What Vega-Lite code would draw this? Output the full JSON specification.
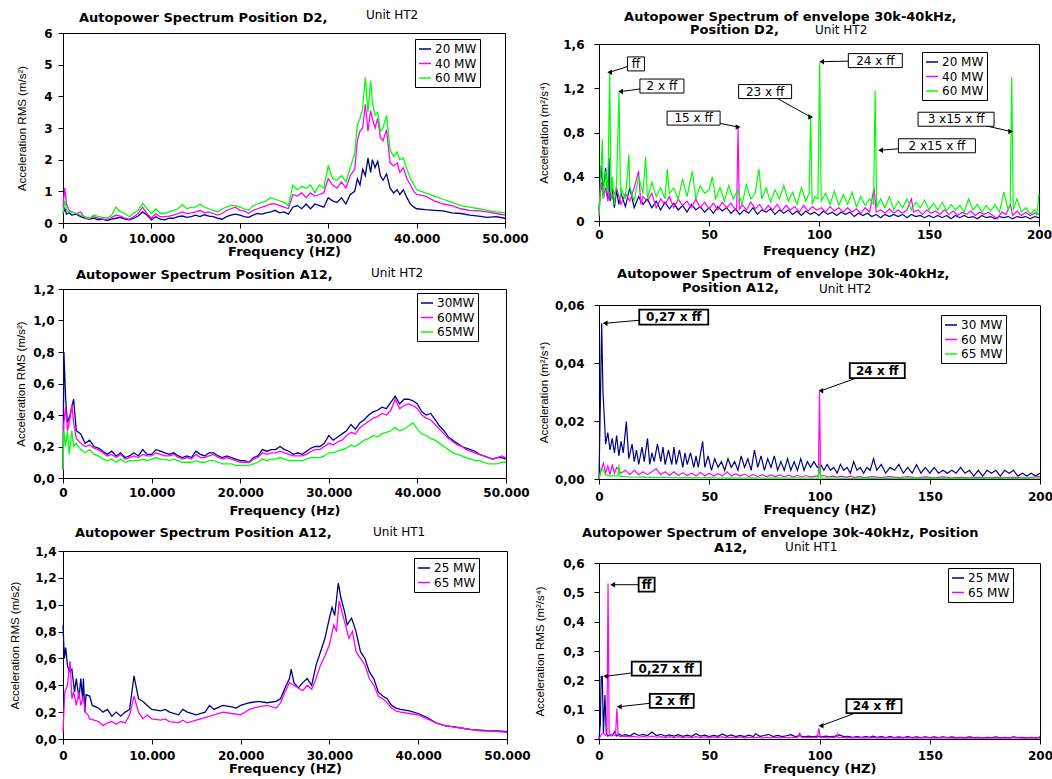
{
"$schema":"https://vega.github.io/schema/vega-lite/v6.json",
"background":"white",
"padding":{"left":8,"top":0,"right":5,"bottom":2},
"config":{
 "font":"DejaVu Sans",
 "view":{"stroke":"black","strokeWidth":1},
 "axis":{"grid":false,"domainColor":"black","tickColor":"black","labelColor":"black","titleColor":"black","tickSize":5,"labelFont":"DejaVu Sans","labelFontWeight":"bold","labelFontSize":12,"labelFlush":false,"labelOverlap":false},
 "axisX":{"titleFont":"DejaVu Sans","titleFontWeight":"bold","titleFontSize":13},
 "axisY":{"titleFont":"Liberation Sans","titleFontWeight":"normal","titleFontSize":11.5},
 "text":{"color":"black"},
 "legend":{"strokeColor":"black","fillColor":"white","padding":3,"symbolType":"stroke","symbolSize":144,"symbolStrokeWidth":1.5,"labelFont":"DejaVu Sans","labelFontSize":12,"labelColor":"black","rowPadding":1.5,"labelOffset":3,"cornerRadius":0}
},
"datasets":{
"t1":[{"t":"Autopower Spectrum Position D2,","x":1810,"y":6.357}],
"u1":[{"t":"Unit HT2","x":34276,"y":6.442}],
"t2":[{"t":"Autopower Spectrum of envelope 30k-40kHz,","x":11.4,"y":1.811},{"t":"Position D2,","x":41.4,"y":1.688}],
"u2":[{"t":"Unit HT2","x":98.2,"y":1.69}],
"t3":[{"t":"Autopower Spectrum Position A12,","x":1467,"y":1.2635}],
"u3":[{"t":"Unit HT2","x":34763,"y":1.274}],
"t4":[{"t":"Autopower Spectrum of envelope 30k-40kHz,","x":8.2,"y":0.0692},{"t":"Position A12,","x":37.6,"y":0.06438}],
"u4":[{"t":"Unit HT2","x":99.8,"y":0.06404}],
"t5":[{"t":"Autopower Spectrum Position A12,","x":1351,"y":1.5065}],
"u5":[{"t":"Unit HT1","x":34910,"y":1.514}],
"t6":[{"t":"Autopower Spectrum of envelope 30k-40kHz, Position","x":-7.7,"y":0.6897},{"t":"A12,","x":52.2,"y":0.6385}],
"u6":[{"t":"Unit HT1","x":84.4,"y":0.641}],
"a1":[{"x":0,"y":0.3},{"x":200,"y":0.45},{"x":400,"y":0.28},{"x":700,"y":0.32},{"x":1000,"y":0.25},{"x":1500,"y":0.28},{"x":2000,"y":0.2},{"x":2500,"y":0.15},{"x":3000,"y":0.12},{"x":3500,"y":0.15},{"x":4000,"y":0.1},{"x":4500,"y":0.12},{"x":5000,"y":0.08},{"x":5500,"y":0.12},{"x":6000,"y":0.15},{"x":6500,"y":0.18},{"x":7000,"y":0.12},{"x":7500,"y":0.1},{"x":8000,"y":0.15},{"x":8500,"y":0.22},{"x":9000,"y":0.35},{"x":9500,"y":0.25},{"x":10000,"y":0.1},{"x":10500,"y":0.2},{"x":11000,"y":0.12},{"x":11500,"y":0.1},{"x":12000,"y":0.15},{"x":12500,"y":0.15},{"x":13000,"y":0.2},{"x":13500,"y":0.22},{"x":14000,"y":0.18},{"x":14500,"y":0.2},{"x":15000,"y":0.25},{"x":15500,"y":0.2},{"x":16000,"y":0.26},{"x":16500,"y":0.22},{"x":17000,"y":0.2},{"x":17500,"y":0.15},{"x":18000,"y":0.12},{"x":18500,"y":0.2},{"x":19000,"y":0.25},{"x":19500,"y":0.28},{"x":20000,"y":0.25},{"x":20500,"y":0.2},{"x":21000,"y":0.18},{"x":21500,"y":0.25},{"x":22000,"y":0.3},{"x":22500,"y":0.28},{"x":23000,"y":0.32},{"x":23500,"y":0.35},{"x":24000,"y":0.4},{"x":24500,"y":0.32},{"x":25000,"y":0.35},{"x":25500,"y":0.28},{"x":26000,"y":0.5},{"x":26500,"y":0.55},{"x":27000,"y":0.45},{"x":27500,"y":0.6},{"x":28000,"y":0.45},{"x":28500,"y":0.6},{"x":29000,"y":0.55},{"x":29500,"y":0.5},{"x":30000,"y":0.8},{"x":30500,"y":0.7},{"x":31000,"y":0.65},{"x":31500,"y":0.8},{"x":32000,"y":0.6},{"x":32500,"y":0.9},{"x":33000,"y":1.0},{"x":33300,"y":1.4},{"x":33600,"y":1.2},{"x":33900,"y":1.7},{"x":34200,"y":1.5},{"x":34500,"y":2.05},{"x":34800,"y":1.6},{"x":35000,"y":2.0},{"x":35300,"y":1.75},{"x":35600,"y":1.95},{"x":35900,"y":1.5},{"x":36200,"y":1.35},{"x":36600,"y":1.55},{"x":37000,"y":1.1},{"x":37400,"y":0.95},{"x":37800,"y":1.05},{"x":38100,"y":0.9},{"x":38500,"y":1.05},{"x":38900,"y":0.8},{"x":39300,"y":0.6},{"x":39700,"y":0.5},{"x":40000,"y":0.45},{"x":41000,"y":0.42},{"x":42000,"y":0.4},{"x":43000,"y":0.38},{"x":44000,"y":0.32},{"x":45000,"y":0.3},{"x":46000,"y":0.25},{"x":47000,"y":0.22},{"x":48000,"y":0.18},{"x":49000,"y":0.2},{"x":50000,"y":0.15}],
"a2":[{"x":0,"y":0.5},{"x":200,"y":1.1},{"x":400,"y":0.6},{"x":700,"y":0.4},{"x":1000,"y":0.35},{"x":1500,"y":0.3},{"x":2000,"y":0.35},{"x":2500,"y":0.15},{"x":3000,"y":0.15},{"x":3500,"y":0.2},{"x":4000,"y":0.15},{"x":4500,"y":0.12},{"x":5000,"y":0.1},{"x":5500,"y":0.18},{"x":6000,"y":0.25},{"x":6500,"y":0.22},{"x":7000,"y":0.15},{"x":7500,"y":0.12},{"x":8000,"y":0.2},{"x":8500,"y":0.3},{"x":9000,"y":0.5},{"x":9500,"y":0.3},{"x":10000,"y":0.15},{"x":10500,"y":0.3},{"x":11000,"y":0.2},{"x":11500,"y":0.2},{"x":12000,"y":0.22},{"x":12500,"y":0.25},{"x":13000,"y":0.3},{"x":13500,"y":0.35},{"x":14000,"y":0.3},{"x":14500,"y":0.32},{"x":15000,"y":0.35},{"x":15500,"y":0.4},{"x":16000,"y":0.32},{"x":16500,"y":0.35},{"x":17000,"y":0.3},{"x":17500,"y":0.25},{"x":18000,"y":0.3},{"x":18500,"y":0.4},{"x":19000,"y":0.45},{"x":19500,"y":0.5},{"x":20000,"y":0.4},{"x":20500,"y":0.38},{"x":21000,"y":0.3},{"x":21500,"y":0.4},{"x":22000,"y":0.45},{"x":22500,"y":0.5},{"x":23000,"y":0.55},{"x":23500,"y":0.6},{"x":24000,"y":0.6},{"x":24500,"y":0.55},{"x":25000,"y":0.5},{"x":25500,"y":0.45},{"x":26000,"y":0.9},{"x":26500,"y":0.85},{"x":27000,"y":0.95},{"x":27500,"y":0.8},{"x":28000,"y":0.95},{"x":28500,"y":0.85},{"x":29000,"y":0.9},{"x":29500,"y":0.95},{"x":30000,"y":1.4},{"x":30500,"y":1.2},{"x":31000,"y":1.1},{"x":31500,"y":1.3},{"x":32000,"y":1.1},{"x":32500,"y":1.5},{"x":33000,"y":1.7},{"x":33300,"y":2.6},{"x":33600,"y":2.9},{"x":33900,"y":3.0},{"x":34200,"y":3.75},{"x":34500,"y":2.9},{"x":34800,"y":3.55},{"x":35000,"y":3.3},{"x":35300,"y":3.0},{"x":35600,"y":3.3},{"x":35900,"y":2.7},{"x":36200,"y":2.6},{"x":36600,"y":2.95},{"x":37000,"y":1.9},{"x":37400,"y":1.8},{"x":37800,"y":1.9},{"x":38100,"y":1.6},{"x":38500,"y":1.75},{"x":38900,"y":1.4},{"x":39300,"y":1.2},{"x":39700,"y":1.0},{"x":40000,"y":0.9},{"x":41000,"y":0.85},{"x":42000,"y":0.7},{"x":43000,"y":0.6},{"x":44000,"y":0.55},{"x":45000,"y":0.45},{"x":46000,"y":0.4},{"x":47000,"y":0.38},{"x":48000,"y":0.35},{"x":49000,"y":0.3},{"x":50000,"y":0.25}],
"a3":[{"x":0,"y":0.3},{"x":200,"y":0.7},{"x":400,"y":0.4},{"x":700,"y":0.35},{"x":1000,"y":0.35},{"x":1500,"y":0.3},{"x":2000,"y":0.25},{"x":2500,"y":0.2},{"x":3000,"y":0.15},{"x":3500,"y":0.25},{"x":4000,"y":0.2},{"x":4500,"y":0.18},{"x":5000,"y":0.15},{"x":5500,"y":0.25},{"x":6000,"y":0.5},{"x":6500,"y":0.35},{"x":7000,"y":0.3},{"x":7500,"y":0.2},{"x":8000,"y":0.3},{"x":8500,"y":0.4},{"x":9000,"y":0.62},{"x":9500,"y":0.45},{"x":10000,"y":0.3},{"x":10500,"y":0.45},{"x":11000,"y":0.3},{"x":11500,"y":0.3},{"x":12000,"y":0.35},{"x":12500,"y":0.4},{"x":13000,"y":0.45},{"x":13500,"y":0.58},{"x":14000,"y":0.45},{"x":14500,"y":0.5},{"x":15000,"y":0.5},{"x":15500,"y":0.6},{"x":16000,"y":0.5},{"x":16500,"y":0.45},{"x":17000,"y":0.4},{"x":17500,"y":0.35},{"x":18000,"y":0.45},{"x":18500,"y":0.5},{"x":19000,"y":0.55},{"x":19500,"y":0.55},{"x":20000,"y":0.5},{"x":20500,"y":0.45},{"x":21000,"y":0.4},{"x":21500,"y":0.55},{"x":22000,"y":0.6},{"x":22500,"y":0.65},{"x":23000,"y":0.7},{"x":23500,"y":0.8},{"x":24000,"y":0.75},{"x":24500,"y":0.7},{"x":25000,"y":0.65},{"x":25500,"y":0.55},{"x":26000,"y":1.2},{"x":26500,"y":1.05},{"x":27000,"y":1.15},{"x":27500,"y":1.1},{"x":28000,"y":1.2},{"x":28500,"y":0.95},{"x":29000,"y":1.2},{"x":29500,"y":1.1},{"x":30000,"y":1.8},{"x":30500,"y":1.4},{"x":31000,"y":1.35},{"x":31500,"y":1.5},{"x":32000,"y":1.3},{"x":32500,"y":1.75},{"x":33000,"y":2.2},{"x":33300,"y":3.1},{"x":33600,"y":3.3},{"x":33900,"y":3.6},{"x":34200,"y":4.6},{"x":34500,"y":3.5},{"x":34800,"y":4.5},{"x":35000,"y":3.8},{"x":35300,"y":3.4},{"x":35600,"y":3.5},{"x":35900,"y":2.9},{"x":36200,"y":3.0},{"x":36600,"y":3.4},{"x":37000,"y":2.3},{"x":37400,"y":2.1},{"x":37800,"y":2.25},{"x":38100,"y":2.0},{"x":38500,"y":2.05},{"x":38900,"y":1.7},{"x":39300,"y":1.4},{"x":39700,"y":1.2},{"x":40000,"y":1.05},{"x":41000,"y":0.95},{"x":42000,"y":0.85},{"x":43000,"y":0.75},{"x":44000,"y":0.65},{"x":45000,"y":0.55},{"x":46000,"y":0.5},{"x":47000,"y":0.45},{"x":48000,"y":0.4},{"x":49000,"y":0.35},{"x":50000,"y":0.32}],
"b1":[{"x":0,"y":0.1},{"x":1,"y":0.5},{"x":2,"y":0.25},{"x":3,"y":0.48},{"x":4,"y":0.2},{"x":4.5,"y":0.57},{"x":5,"y":0.18},{"x":6,"y":0.3},{"x":7,"y":0.12},{"x":8,"y":0.28},{"x":9,"y":0.15},{"x":10,"y":0.25},{"x":12,"y":0.13},{"x":14,"y":0.3},{"x":16,"y":0.12},{"x":18,"y":0.22},{"x":20,"y":0.15},{"x":22,"y":0.2},{"x":24,"y":0.12},{"x":26,"y":0.18},{"x":28,"y":0.1},{"x":30,"y":0.17},{"x":32,"y":0.11},{"x":34,"y":0.16},{"x":36,"y":0.1},{"x":38,"y":0.14},{"x":40,"y":0.08},{"x":42,"y":0.15},{"x":44,"y":0.1},{"x":46,"y":0.13},{"x":48,"y":0.08},{"x":50,"y":0.12},{"x":52,"y":0.07},{"x":54,"y":0.13},{"x":56,"y":0.09},{"x":58,"y":0.12},{"x":60,"y":0.07},{"x":62,"y":0.11},{"x":64,"y":0.06},{"x":66,"y":0.1},{"x":68,"y":0.07},{"x":70,"y":0.12},{"x":72,"y":0.06},{"x":74,"y":0.1},{"x":76,"y":0.08},{"x":78,"y":0.11},{"x":80,"y":0.06},{"x":82,"y":0.1},{"x":84,"y":0.07},{"x":86,"y":0.1},{"x":88,"y":0.06},{"x":90,"y":0.09},{"x":92,"y":0.05},{"x":94,"y":0.09},{"x":96,"y":0.06},{"x":98,"y":0.08},{"x":100,"y":0.05},{"x":102,"y":0.09},{"x":104,"y":0.06},{"x":106,"y":0.08},{"x":108,"y":0.05},{"x":110,"y":0.08},{"x":112,"y":0.06},{"x":114,"y":0.08},{"x":116,"y":0.04},{"x":118,"y":0.07},{"x":120,"y":0.05},{"x":122,"y":0.07},{"x":124,"y":0.04},{"x":126,"y":0.06},{"x":128,"y":0.03},{"x":130,"y":0.06},{"x":132,"y":0.04},{"x":134,"y":0.06},{"x":136,"y":0.04},{"x":138,"y":0.06},{"x":140,"y":0.03},{"x":142,"y":0.06},{"x":144,"y":0.04},{"x":146,"y":0.05},{"x":148,"y":0.03},{"x":150,"y":0.05},{"x":152,"y":0.03},{"x":154,"y":0.05},{"x":156,"y":0.03},{"x":158,"y":0.05},{"x":160,"y":0.02},{"x":162,"y":0.05},{"x":164,"y":0.03},{"x":166,"y":0.05},{"x":168,"y":0.03},{"x":170,"y":0.04},{"x":172,"y":0.02},{"x":174,"y":0.05},{"x":176,"y":0.03},{"x":178,"y":0.04},{"x":180,"y":0.02},{"x":182,"y":0.04},{"x":184,"y":0.03},{"x":186,"y":0.04},{"x":188,"y":0.02},{"x":190,"y":0.04},{"x":192,"y":0.03},{"x":194,"y":0.04},{"x":196,"y":0.02},{"x":198,"y":0.04},{"x":200,"y":0.03}],
"b2":[{"x":0,"y":0.05},{"x":1,"y":0.35},{"x":2,"y":0.2},{"x":3,"y":0.3},{"x":4,"y":0.18},{"x":5,"y":0.27},{"x":6,"y":0.2},{"x":8,"y":0.3},{"x":10,"y":0.15},{"x":12,"y":0.25},{"x":14,"y":0.18},{"x":16,"y":0.3},{"x":18,"y":0.45},{"x":19,"y":0.15},{"x":20,"y":0.22},{"x":22,"y":0.18},{"x":24,"y":0.25},{"x":26,"y":0.12},{"x":28,"y":0.2},{"x":30,"y":0.15},{"x":32,"y":0.22},{"x":34,"y":0.12},{"x":36,"y":0.2},{"x":38,"y":0.14},{"x":40,"y":0.18},{"x":42,"y":0.12},{"x":44,"y":0.2},{"x":46,"y":0.12},{"x":48,"y":0.17},{"x":50,"y":0.11},{"x":52,"y":0.16},{"x":54,"y":0.1},{"x":56,"y":0.17},{"x":58,"y":0.12},{"x":60,"y":0.16},{"x":62,"y":0.1},{"x":62.6,"y":0.12},{"x":63.2,"y":0.85},{"x":63.8,"y":0.1},{"x":65,"y":0.15},{"x":67,"y":0.1},{"x":69,"y":0.17},{"x":71,"y":0.11},{"x":73,"y":0.15},{"x":75,"y":0.09},{"x":77,"y":0.14},{"x":79,"y":0.1},{"x":81,"y":0.15},{"x":83,"y":0.09},{"x":85,"y":0.14},{"x":87,"y":0.1},{"x":89,"y":0.13},{"x":91,"y":0.08},{"x":93,"y":0.14},{"x":95,"y":0.09},{"x":97,"y":0.13},{"x":99,"y":0.1},{"x":101,"y":0.12},{"x":103,"y":0.08},{"x":105,"y":0.13},{"x":107,"y":0.09},{"x":109,"y":0.12},{"x":111,"y":0.08},{"x":113,"y":0.12},{"x":115,"y":0.08},{"x":117,"y":0.11},{"x":119,"y":0.07},{"x":121,"y":0.12},{"x":123,"y":0.08},{"x":125,"y":0.3},{"x":126,"y":0.08},{"x":128,"y":0.1},{"x":130,"y":0.07},{"x":132,"y":0.11},{"x":134,"y":0.07},{"x":136,"y":0.1},{"x":138,"y":0.07},{"x":140,"y":0.1},{"x":142,"y":0.2},{"x":143,"y":0.08},{"x":145,"y":0.1},{"x":147,"y":0.06},{"x":149,"y":0.1},{"x":151,"y":0.07},{"x":153,"y":0.09},{"x":155,"y":0.06},{"x":157,"y":0.1},{"x":159,"y":0.06},{"x":161,"y":0.09},{"x":163,"y":0.05},{"x":165,"y":0.08},{"x":167,"y":0.06},{"x":169,"y":0.09},{"x":171,"y":0.05},{"x":173,"y":0.08},{"x":175,"y":0.06},{"x":177,"y":0.08},{"x":179,"y":0.05},{"x":181,"y":0.02},{"x":183,"y":0.08},{"x":185,"y":0.06},{"x":187,"y":0.15},{"x":188,"y":0.05},{"x":190,"y":0.09},{"x":192,"y":0.05},{"x":194,"y":0.08},{"x":196,"y":0.05},{"x":198,"y":0.07},{"x":200,"y":0.06}],
"b3":[{"x":0,"y":0.05},{"x":1,"y":0.5},{"x":1.5,"y":0.74},{"x":2,"y":0.2},{"x":3,"y":0.45},{"x":4,"y":0.25},{"x":4.85,"y":1.34},{"x":5.5,"y":0.2},{"x":6,"y":0.4},{"x":7,"y":0.15},{"x":8,"y":0.35},{"x":9.1,"y":1.16},{"x":9.8,"y":0.2},{"x":10,"y":0.3},{"x":12,"y":0.2},{"x":13.6,"y":0.6},{"x":14,"y":0.3},{"x":16,"y":0.18},{"x":18,"y":0.4},{"x":20,"y":0.25},{"x":21.2,"y":0.58},{"x":22,"y":0.2},{"x":24,"y":0.35},{"x":26,"y":0.22},{"x":28,"y":0.3},{"x":30,"y":0.2},{"x":31,"y":0.47},{"x":32,"y":0.25},{"x":34,"y":0.3},{"x":36,"y":0.2},{"x":38,"y":0.38},{"x":40,"y":0.22},{"x":42.4,"y":0.45},{"x":44,"y":0.2},{"x":46,"y":0.32},{"x":48,"y":0.25},{"x":50,"y":0.28},{"x":51.5,"y":0.4},{"x":53,"y":0.2},{"x":55,"y":0.3},{"x":57,"y":0.18},{"x":59,"y":0.32},{"x":61,"y":0.2},{"x":63,"y":0.28},{"x":65,"y":0.15},{"x":67,"y":0.33},{"x":69,"y":0.2},{"x":71,"y":0.25},{"x":72.7,"y":0.47},{"x":74,"y":0.2},{"x":76,"y":0.3},{"x":78,"y":0.17},{"x":80,"y":0.28},{"x":82,"y":0.2},{"x":84,"y":0.32},{"x":86,"y":0.18},{"x":88,"y":0.26},{"x":90,"y":0.15},{"x":92,"y":0.3},{"x":94,"y":0.18},{"x":95.5,"y":0.25},{"x":96.2,"y":0.94},{"x":96.9,"y":0.15},{"x":98,"y":0.22},{"x":99.5,"y":0.2},{"x":100.3,"y":1.43},{"x":101,"y":0.18},{"x":103,"y":0.25},{"x":105,"y":0.15},{"x":107,"y":0.27},{"x":109,"y":0.14},{"x":111,"y":0.24},{"x":113,"y":0.15},{"x":115,"y":0.26},{"x":117,"y":0.13},{"x":119,"y":0.22},{"x":121,"y":0.14},{"x":123,"y":0.2},{"x":124.8,"y":0.15},{"x":125.5,"y":1.18},{"x":126.2,"y":0.12},{"x":128,"y":0.2},{"x":130,"y":0.12},{"x":132,"y":0.22},{"x":134,"y":0.1},{"x":136,"y":0.18},{"x":138,"y":0.12},{"x":140,"y":0.2},{"x":142,"y":0.1},{"x":144,"y":0.17},{"x":146,"y":0.12},{"x":148,"y":0.19},{"x":150,"y":0.1},{"x":152,"y":0.16},{"x":154,"y":0.1},{"x":156,"y":0.17},{"x":158,"y":0.09},{"x":160,"y":0.15},{"x":162,"y":0.1},{"x":164,"y":0.14},{"x":166,"y":0.08},{"x":168,"y":0.2},{"x":170,"y":0.1},{"x":172,"y":0.15},{"x":174,"y":0.08},{"x":176,"y":0.14},{"x":178,"y":0.09},{"x":180,"y":0.15},{"x":182,"y":0.08},{"x":184,"y":0.26},{"x":186,"y":0.1},{"x":186.9,"y":0.15},{"x":187.6,"y":1.3},{"x":188.3,"y":0.1},{"x":190,"y":0.2},{"x":192,"y":0.08},{"x":194,"y":0.12},{"x":196,"y":0.06},{"x":198,"y":0.1},{"x":199,"y":0.05},{"x":200,"y":0.25}],
"bn":[{"t":"ff","x":4.85,"y":1.345,"lx":16.8,"ly":1.42},{"t":"2 x ff","x":9.8,"y":1.17,"lx":28.6,"ly":1.22},{"t":"15 x ff","x":63.2,"y":0.85,"lx":43,"ly":0.93},{"t":"23 x ff","x":96.2,"y":0.94,"lx":75.5,"ly":1.17},{"t":"24 x ff","x":101.2,"y":1.44,"lx":125.6,"ly":1.45},{"t":"2 x15 x ff","x":128,"y":0.64,"lx":153.6,"ly":0.68},{"t":"3 x15 x ff","x":187.1,"y":0.81,"lx":162.3,"ly":0.92}],
"c1":[{"x":0,"y":0.05},{"x":100,"y":0.8},{"x":300,"y":0.5},{"x":500,"y":0.35},{"x":800,"y":0.4},{"x":1000,"y":0.45},{"x":1200,"y":0.5},{"x":1500,"y":0.3},{"x":2000,"y":0.28},{"x":2500,"y":0.22},{"x":3000,"y":0.24},{"x":3500,"y":0.2},{"x":4000,"y":0.19},{"x":4500,"y":0.17},{"x":5000,"y":0.15},{"x":5500,"y":0.17},{"x":6000,"y":0.14},{"x":6500,"y":0.16},{"x":7000,"y":0.13},{"x":7500,"y":0.14},{"x":8000,"y":0.16},{"x":8500,"y":0.14},{"x":9000,"y":0.18},{"x":9500,"y":0.15},{"x":10000,"y":0.15},{"x":10500,"y":0.18},{"x":11000,"y":0.17},{"x":11500,"y":0.16},{"x":12000,"y":0.15},{"x":12500,"y":0.16},{"x":13000,"y":0.14},{"x":13500,"y":0.13},{"x":14000,"y":0.14},{"x":14500,"y":0.13},{"x":15000,"y":0.17},{"x":15500,"y":0.15},{"x":16000,"y":0.14},{"x":16500,"y":0.16},{"x":17000,"y":0.16},{"x":17500,"y":0.14},{"x":18000,"y":0.13},{"x":18500,"y":0.14},{"x":19000,"y":0.13},{"x":19500,"y":0.12},{"x":20000,"y":0.11},{"x":20500,"y":0.11},{"x":21000,"y":0.1},{"x":21500,"y":0.13},{"x":22000,"y":0.14},{"x":22500,"y":0.18},{"x":23000,"y":0.17},{"x":23500,"y":0.18},{"x":24000,"y":0.18},{"x":24500,"y":0.2},{"x":25000,"y":0.18},{"x":25500,"y":0.17},{"x":26000,"y":0.15},{"x":26500,"y":0.16},{"x":27000,"y":0.15},{"x":27500,"y":0.17},{"x":28000,"y":0.19},{"x":28500,"y":0.2},{"x":29000,"y":0.2},{"x":29500,"y":0.22},{"x":30000,"y":0.27},{"x":30500,"y":0.24},{"x":31000,"y":0.26},{"x":31500,"y":0.28},{"x":32000,"y":0.3},{"x":32500,"y":0.34},{"x":33000,"y":0.31},{"x":33500,"y":0.35},{"x":34000,"y":0.37},{"x":34500,"y":0.4},{"x":35000,"y":0.42},{"x":35500,"y":0.43},{"x":36000,"y":0.45},{"x":36500,"y":0.44},{"x":37000,"y":0.48},{"x":37500,"y":0.52},{"x":38000,"y":0.47},{"x":38500,"y":0.5},{"x":39000,"y":0.5},{"x":39500,"y":0.49},{"x":40000,"y":0.47},{"x":40500,"y":0.42},{"x":41000,"y":0.4},{"x":41500,"y":0.41},{"x":42000,"y":0.37},{"x":42500,"y":0.33},{"x":43000,"y":0.3},{"x":43500,"y":0.26},{"x":44000,"y":0.24},{"x":44500,"y":0.22},{"x":45000,"y":0.2},{"x":45500,"y":0.19},{"x":46000,"y":0.18},{"x":46500,"y":0.17},{"x":47000,"y":0.15},{"x":47500,"y":0.14},{"x":48000,"y":0.13},{"x":48500,"y":0.12},{"x":49000,"y":0.13},{"x":49500,"y":0.13},{"x":50000,"y":0.12}],
"c2":[{"x":0,"y":0.05},{"x":100,"y":0.35},{"x":300,"y":0.45},{"x":500,"y":0.3},{"x":800,"y":0.38},{"x":1000,"y":0.47},{"x":1200,"y":0.35},{"x":1500,"y":0.25},{"x":2000,"y":0.22},{"x":2500,"y":0.2},{"x":3000,"y":0.21},{"x":3500,"y":0.19},{"x":4000,"y":0.18},{"x":4500,"y":0.16},{"x":5000,"y":0.14},{"x":5500,"y":0.15},{"x":6000,"y":0.13},{"x":6500,"y":0.15},{"x":7000,"y":0.12},{"x":7500,"y":0.13},{"x":8000,"y":0.14},{"x":8500,"y":0.13},{"x":9000,"y":0.15},{"x":9500,"y":0.14},{"x":10000,"y":0.14},{"x":10500,"y":0.16},{"x":11000,"y":0.15},{"x":11500,"y":0.14},{"x":12000,"y":0.14},{"x":12500,"y":0.15},{"x":13000,"y":0.13},{"x":13500,"y":0.12},{"x":14000,"y":0.13},{"x":14500,"y":0.12},{"x":15000,"y":0.15},{"x":15500,"y":0.13},{"x":16000,"y":0.13},{"x":16500,"y":0.14},{"x":17000,"y":0.15},{"x":17500,"y":0.13},{"x":18000,"y":0.12},{"x":18500,"y":0.13},{"x":19000,"y":0.12},{"x":19500,"y":0.11},{"x":20000,"y":0.1},{"x":20500,"y":0.1},{"x":21000,"y":0.1},{"x":21500,"y":0.12},{"x":22000,"y":0.13},{"x":22500,"y":0.16},{"x":23000,"y":0.15},{"x":23500,"y":0.16},{"x":24000,"y":0.16},{"x":24500,"y":0.17},{"x":25000,"y":0.16},{"x":25500,"y":0.15},{"x":26000,"y":0.14},{"x":26500,"y":0.14},{"x":27000,"y":0.14},{"x":27500,"y":0.15},{"x":28000,"y":0.17},{"x":28500,"y":0.18},{"x":29000,"y":0.18},{"x":29500,"y":0.2},{"x":30000,"y":0.22},{"x":30500,"y":0.21},{"x":31000,"y":0.23},{"x":31500,"y":0.24},{"x":32000,"y":0.27},{"x":32500,"y":0.29},{"x":33000,"y":0.28},{"x":33500,"y":0.32},{"x":34000,"y":0.34},{"x":34500,"y":0.36},{"x":35000,"y":0.38},{"x":35500,"y":0.39},{"x":36000,"y":0.41},{"x":36500,"y":0.4},{"x":37000,"y":0.43},{"x":37500,"y":0.5},{"x":38000,"y":0.44},{"x":38500,"y":0.46},{"x":39000,"y":0.47},{"x":39500,"y":0.46},{"x":40000,"y":0.44},{"x":40500,"y":0.4},{"x":41000,"y":0.38},{"x":41500,"y":0.37},{"x":42000,"y":0.34},{"x":42500,"y":0.31},{"x":43000,"y":0.28},{"x":43500,"y":0.25},{"x":44000,"y":0.23},{"x":44500,"y":0.21},{"x":45000,"y":0.2},{"x":45500,"y":0.18},{"x":46000,"y":0.17},{"x":46500,"y":0.16},{"x":47000,"y":0.15},{"x":47500,"y":0.14},{"x":48000,"y":0.13},{"x":48500,"y":0.12},{"x":49000,"y":0.13},{"x":49500,"y":0.14},{"x":50000,"y":0.13}],
"c3":[{"x":0,"y":0.05},{"x":100,"y":0.3},{"x":300,"y":0.2},{"x":500,"y":0.3},{"x":700,"y":0.15},{"x":1000,"y":0.3},{"x":1200,"y":0.2},{"x":1500,"y":0.22},{"x":2000,"y":0.18},{"x":2500,"y":0.16},{"x":3000,"y":0.18},{"x":3500,"y":0.15},{"x":4000,"y":0.14},{"x":4500,"y":0.12},{"x":5000,"y":0.11},{"x":5500,"y":0.12},{"x":6000,"y":0.1},{"x":6500,"y":0.12},{"x":7000,"y":0.1},{"x":7500,"y":0.11},{"x":8000,"y":0.11},{"x":8500,"y":0.11},{"x":9000,"y":0.12},{"x":9500,"y":0.11},{"x":10000,"y":0.12},{"x":10500,"y":0.13},{"x":11000,"y":0.12},{"x":11500,"y":0.12},{"x":12000,"y":0.11},{"x":12500,"y":0.12},{"x":13000,"y":0.11},{"x":13500,"y":0.1},{"x":14000,"y":0.1},{"x":14500,"y":0.1},{"x":15000,"y":0.11},{"x":15500,"y":0.1},{"x":16000,"y":0.1},{"x":16500,"y":0.11},{"x":17000,"y":0.11},{"x":17500,"y":0.1},{"x":18000,"y":0.09},{"x":18500,"y":0.09},{"x":19000,"y":0.09},{"x":19500,"y":0.08},{"x":20000,"y":0.08},{"x":20500,"y":0.08},{"x":21000,"y":0.08},{"x":21500,"y":0.09},{"x":22000,"y":0.1},{"x":22500,"y":0.12},{"x":23000,"y":0.11},{"x":23500,"y":0.12},{"x":24000,"y":0.12},{"x":24500,"y":0.13},{"x":25000,"y":0.12},{"x":25500,"y":0.11},{"x":26000,"y":0.11},{"x":26500,"y":0.11},{"x":27000,"y":0.11},{"x":27500,"y":0.12},{"x":28000,"y":0.13},{"x":28500,"y":0.13},{"x":29000,"y":0.13},{"x":29500,"y":0.14},{"x":30000,"y":0.16},{"x":30500,"y":0.16},{"x":31000,"y":0.17},{"x":31500,"y":0.18},{"x":32000,"y":0.19},{"x":32500,"y":0.21},{"x":33000,"y":0.2},{"x":33500,"y":0.22},{"x":34000,"y":0.24},{"x":34500,"y":0.25},{"x":35000,"y":0.27},{"x":35500,"y":0.26},{"x":36000,"y":0.28},{"x":36500,"y":0.29},{"x":37000,"y":0.3},{"x":37500,"y":0.32},{"x":38000,"y":0.3},{"x":38500,"y":0.31},{"x":39000,"y":0.33},{"x":39500,"y":0.35},{"x":40000,"y":0.31},{"x":40500,"y":0.28},{"x":41000,"y":0.27},{"x":41500,"y":0.25},{"x":42000,"y":0.24},{"x":42500,"y":0.22},{"x":43000,"y":0.2},{"x":43500,"y":0.18},{"x":44000,"y":0.16},{"x":44500,"y":0.15},{"x":45000,"y":0.14},{"x":45500,"y":0.13},{"x":46000,"y":0.12},{"x":46500,"y":0.11},{"x":47000,"y":0.11},{"x":47500,"y":0.1},{"x":48000,"y":0.09},{"x":48500,"y":0.09},{"x":49000,"y":0.09},{"x":49500,"y":0.1},{"x":50000,"y":0.1}],
"d1":[{"x":0,"y":0},{"x":0.7,"y":0.03},{"x":1.2,"y":0.0537},{"x":1.8,"y":0.03},{"x":2.5,"y":0.02},{"x":3,"y":0.012},{"x":4,"y":0.016},{"x":5,"y":0.01},{"x":6,"y":0.014},{"x":7,"y":0.009},{"x":8,"y":0.015},{"x":9,"y":0.008},{"x":10,"y":0.013},{"x":11,"y":0.009},{"x":12.4,"y":0.0198},{"x":13.5,"y":0.007},{"x":15,"y":0.012},{"x":16,"y":0.006},{"x":17,"y":0.01},{"x":18,"y":0.005},{"x":19.5,"y":0.011},{"x":20.5,"y":0.006},{"x":22,"y":0.014},{"x":23,"y":0.005},{"x":24,"y":0.009},{"x":25,"y":0.006},{"x":26.5,"y":0.012},{"x":28,"y":0.006},{"x":29,"y":0.011},{"x":30,"y":0.005},{"x":31.5,"y":0.01},{"x":33,"y":0.005},{"x":34,"y":0.011},{"x":35,"y":0.005},{"x":36.5,"y":0.01},{"x":38,"y":0.004},{"x":39,"y":0.009},{"x":40,"y":0.005},{"x":41.5,"y":0.009},{"x":43,"y":0.004},{"x":44,"y":0.008},{"x":45,"y":0.004},{"x":47,"y":0.013},{"x":48,"y":0.004},{"x":49.5,"y":0.008},{"x":51,"y":0.003},{"x":52.5,"y":0.007},{"x":54,"y":0.004},{"x":55.5,"y":0.006},{"x":57,"y":0.003},{"x":58.5,"y":0.007},{"x":60,"y":0.004},{"x":61.5,"y":0.006},{"x":63,"y":0.003},{"x":64.5,"y":0.008},{"x":66,"y":0.004},{"x":67.5,"y":0.007},{"x":69,"y":0.003},{"x":70.5,"y":0.01},{"x":72,"y":0.004},{"x":73.5,"y":0.008},{"x":75,"y":0.003},{"x":76.5,"y":0.007},{"x":78,"y":0.004},{"x":79.5,"y":0.008},{"x":81,"y":0.003},{"x":82.5,"y":0.006},{"x":84,"y":0.003},{"x":85.5,"y":0.007},{"x":87,"y":0.003},{"x":88.5,"y":0.006},{"x":90,"y":0.003},{"x":91.5,"y":0.007},{"x":93,"y":0.003},{"x":94.5,"y":0.006},{"x":96,"y":0.004},{"x":97.5,"y":0.006},{"x":99,"y":0.004},{"x":100.5,"y":0.005},{"x":102,"y":0.003},{"x":103.5,"y":0.005},{"x":105,"y":0.003},{"x":106.5,"y":0.004},{"x":108,"y":0.002},{"x":109.5,"y":0.005},{"x":111,"y":0.003},{"x":112.5,"y":0.004},{"x":114,"y":0.002},{"x":115.5,"y":0.006},{"x":117,"y":0.003},{"x":118.5,"y":0.004},{"x":120,"y":0.002},{"x":121.5,"y":0.004},{"x":123,"y":0.003},{"x":124.5,"y":0.007},{"x":126,"y":0.003},{"x":128,"y":0.005},{"x":130,"y":0.002},{"x":132,"y":0.004},{"x":134,"y":0.003},{"x":136,"y":0.005},{"x":138,"y":0.002},{"x":140,"y":0.004},{"x":142,"y":0.002},{"x":144,"y":0.005},{"x":146,"y":0.002},{"x":148,"y":0.004},{"x":150,"y":0.002},{"x":152,"y":0.004},{"x":154,"y":0.002},{"x":156,"y":0.003},{"x":158,"y":0.002},{"x":160,"y":0.003},{"x":162,"y":0.002},{"x":164,"y":0.004},{"x":166,"y":0.002},{"x":168,"y":0.003},{"x":170,"y":0.001},{"x":172,"y":0.003},{"x":174,"y":0.001},{"x":176,"y":0.003},{"x":178,"y":0.002},{"x":180,"y":0.003},{"x":182,"y":0.001},{"x":184,"y":0.003},{"x":186,"y":0.002},{"x":188,"y":0.003},{"x":190,"y":0.001},{"x":192,"y":0.002},{"x":194,"y":0.001},{"x":196,"y":0.002},{"x":198,"y":0.001},{"x":200,"y":0.002}],
"d2":[{"x":0,"y":0},{"x":1,"y":0.003},{"x":2,"y":0.0055},{"x":3,"y":0.002},{"x":4,"y":0.0045},{"x":5,"y":0.0015},{"x":6,"y":0.005},{"x":7,"y":0.002},{"x":8,"y":0.004},{"x":10,"y":0.002},{"x":12,"y":0.003},{"x":14,"y":0.0015},{"x":16,"y":0.003},{"x":18,"y":0.0015},{"x":20,"y":0.0025},{"x":22,"y":0.0015},{"x":24,"y":0.0025},{"x":26,"y":0.0035},{"x":28,"y":0.0015},{"x":30,"y":0.0025},{"x":32,"y":0.0012},{"x":34,"y":0.0025},{"x":36,"y":0.0012},{"x":38,"y":0.0022},{"x":40,"y":0.0012},{"x":42,"y":0.002},{"x":44,"y":0.001},{"x":46,"y":0.0022},{"x":48,"y":0.001},{"x":50,"y":0.002},{"x":52,"y":0.001},{"x":54,"y":0.0018},{"x":56,"y":0.001},{"x":58,"y":0.0025},{"x":60,"y":0.001},{"x":62,"y":0.0018},{"x":64,"y":0.001},{"x":66,"y":0.0017},{"x":68,"y":0.0008},{"x":70,"y":0.0016},{"x":72,"y":0.0008},{"x":74,"y":0.0015},{"x":76,"y":0.0008},{"x":78,"y":0.0014},{"x":80,"y":0.0008},{"x":82,"y":0.0014},{"x":84,"y":0.0007},{"x":86,"y":0.0013},{"x":88,"y":0.0007},{"x":90,"y":0.0012},{"x":92,"y":0.0007},{"x":94,"y":0.0012},{"x":96,"y":0.0007},{"x":98,"y":0.001},{"x":99.5,"y":0.001},{"x":100,"y":0.0301},{"x":100.5,"y":0.001},{"x":102,"y":0.0012},{"x":104,"y":0.0007},{"x":106,"y":0.001},{"x":108,"y":0.0006},{"x":110,"y":0.001},{"x":112,"y":0.0006},{"x":114,"y":0.001},{"x":116,"y":0.0005},{"x":118,"y":0.0009},{"x":120,"y":0.0005},{"x":124,"y":0.0008},{"x":128,"y":0.0005},{"x":132,"y":0.0008},{"x":136,"y":0.0005},{"x":140,"y":0.0008},{"x":144,"y":0.0004},{"x":148,"y":0.0007},{"x":152,"y":0.0004},{"x":156,"y":0.0007},{"x":160,"y":0.0004},{"x":164,"y":0.0006},{"x":168,"y":0.0004},{"x":172,"y":0.0006},{"x":176,"y":0.0004},{"x":180,"y":0.0006},{"x":184,"y":0.0004},{"x":188,"y":0.0006},{"x":192,"y":0.0004},{"x":196,"y":0.0006},{"x":200,"y":0.0008}],
"d3":[{"x":0,"y":0},{"x":1,"y":0.004},{"x":2,"y":0.003},{"x":3,"y":0.0015},{"x":5,"y":0.001},{"x":7,"y":0.0012},{"x":8.5,"y":0.001},{"x":9,"y":0.005},{"x":9.5,"y":0.001},{"x":12,"y":0.0008},{"x":16,"y":0.0006},{"x":20,"y":0.0007},{"x":25,"y":0.0005},{"x":30,"y":0.0006},{"x":35,"y":0.0004},{"x":40,"y":0.0005},{"x":45,"y":0.0004},{"x":50,"y":0.0005},{"x":55,"y":0.0003},{"x":60,"y":0.0004},{"x":65,"y":0.0003},{"x":70,"y":0.0004},{"x":75,"y":0.0003},{"x":80,"y":0.0004},{"x":85,"y":0.0003},{"x":90,"y":0.0003},{"x":95,"y":0.0003},{"x":99.5,"y":0.0003},{"x":100,"y":0.0048},{"x":100.5,"y":0.0003},{"x":105,"y":0.0003},{"x":110,"y":0.0003},{"x":115,"y":0.0002},{"x":120,"y":0.0003},{"x":130,"y":0.0002},{"x":140,"y":0.0003},{"x":150,"y":0.0002},{"x":160,"y":0.0002},{"x":170,"y":0.0002},{"x":180,"y":0.0002},{"x":190,"y":0.0002},{"x":200,"y":0.0003}],
"dn":[{"t":"0,27 x ff","x":2.8,"y":0.0537,"lx":33.9,"ly":0.0558},{"t":"24 x ff","x":100.6,"y":0.0304,"lx":126.2,"ly":0.0374}],
"e1":[{"x":0,"y":0.85},{"x":150,"y":0.6},{"x":300,"y":0.68},{"x":500,"y":0.55},{"x":700,"y":0.5},{"x":1000,"y":0.52},{"x":1300,"y":0.35},{"x":1500,"y":0.45},{"x":1800,"y":0.3},{"x":2000,"y":0.45},{"x":2200,"y":0.3},{"x":2300,"y":0.45},{"x":2450,"y":0.2},{"x":2600,"y":0.33},{"x":3000,"y":0.32},{"x":3300,"y":0.25},{"x":4000,"y":0.23},{"x":4500,"y":0.2},{"x":5000,"y":0.22},{"x":5500,"y":0.17},{"x":6000,"y":0.2},{"x":6500,"y":0.17},{"x":7000,"y":0.2},{"x":7500,"y":0.22},{"x":8000,"y":0.47},{"x":8500,"y":0.3},{"x":9000,"y":0.28},{"x":9500,"y":0.25},{"x":10000,"y":0.22},{"x":11000,"y":0.21},{"x":11500,"y":0.22},{"x":12000,"y":0.2},{"x":13000,"y":0.18},{"x":13500,"y":0.22},{"x":14000,"y":0.2},{"x":15000,"y":0.18},{"x":16000,"y":0.2},{"x":16500,"y":0.25},{"x":17000,"y":0.22},{"x":18000,"y":0.25},{"x":19000,"y":0.24},{"x":19500,"y":0.23},{"x":20000,"y":0.25},{"x":21000,"y":0.27},{"x":22000,"y":0.28},{"x":23000,"y":0.27},{"x":24000,"y":0.28},{"x":24500,"y":0.3},{"x":25000,"y":0.38},{"x":25500,"y":0.45},{"x":25700,"y":0.52},{"x":26000,"y":0.42},{"x":26500,"y":0.38},{"x":27000,"y":0.42},{"x":27500,"y":0.45},{"x":28000,"y":0.4},{"x":28500,"y":0.55},{"x":29000,"y":0.65},{"x":29500,"y":0.75},{"x":30000,"y":0.9},{"x":30300,"y":0.98},{"x":30600,"y":0.92},{"x":31000,"y":1.16},{"x":31300,"y":1.05},{"x":31700,"y":0.95},{"x":32000,"y":0.85},{"x":32500,"y":0.9},{"x":33000,"y":0.8},{"x":33500,"y":0.65},{"x":34000,"y":0.6},{"x":34500,"y":0.5},{"x":35000,"y":0.45},{"x":35500,"y":0.35},{"x":36000,"y":0.32},{"x":36500,"y":0.3},{"x":37000,"y":0.25},{"x":37500,"y":0.23},{"x":38000,"y":0.22},{"x":39000,"y":0.21},{"x":40000,"y":0.19},{"x":41000,"y":0.16},{"x":42000,"y":0.12},{"x":43000,"y":0.1},{"x":44000,"y":0.09},{"x":45000,"y":0.08},{"x":46000,"y":0.07},{"x":47000,"y":0.065},{"x":48000,"y":0.06},{"x":49000,"y":0.06},{"x":50000,"y":0.055}],
"e2":[{"x":0,"y":0.05},{"x":200,"y":0.35},{"x":500,"y":0.4},{"x":800,"y":0.58},{"x":1000,"y":0.3},{"x":1200,"y":0.35},{"x":1500,"y":0.25},{"x":1800,"y":0.35},{"x":2000,"y":0.25},{"x":2300,"y":0.32},{"x":2500,"y":0.2},{"x":2800,"y":0.18},{"x":3000,"y":0.15},{"x":3500,"y":0.14},{"x":4000,"y":0.13},{"x":4500,"y":0.1},{"x":5000,"y":0.12},{"x":5500,"y":0.13},{"x":6000,"y":0.11},{"x":6500,"y":0.13},{"x":7000,"y":0.12},{"x":7500,"y":0.18},{"x":8000,"y":0.32},{"x":8500,"y":0.2},{"x":9000,"y":0.15},{"x":9500,"y":0.18},{"x":10000,"y":0.15},{"x":11000,"y":0.14},{"x":11500,"y":0.15},{"x":12000,"y":0.13},{"x":13000,"y":0.12},{"x":13500,"y":0.14},{"x":14000,"y":0.12},{"x":15000,"y":0.14},{"x":16000,"y":0.16},{"x":17000,"y":0.18},{"x":18000,"y":0.2},{"x":19000,"y":0.19},{"x":20000,"y":0.18},{"x":21000,"y":0.22},{"x":22000,"y":0.24},{"x":23000,"y":0.25},{"x":24000,"y":0.23},{"x":24500,"y":0.27},{"x":25000,"y":0.35},{"x":25500,"y":0.42},{"x":26000,"y":0.4},{"x":26500,"y":0.38},{"x":27000,"y":0.36},{"x":27500,"y":0.4},{"x":28000,"y":0.37},{"x":28500,"y":0.45},{"x":29000,"y":0.55},{"x":29500,"y":0.62},{"x":30000,"y":0.7},{"x":30500,"y":0.85},{"x":30800,"y":0.8},{"x":31100,"y":1.03},{"x":31400,"y":0.95},{"x":31800,"y":0.85},{"x":32200,"y":0.75},{"x":32600,"y":0.8},{"x":33000,"y":0.65},{"x":33500,"y":0.6},{"x":34000,"y":0.55},{"x":34500,"y":0.45},{"x":35000,"y":0.4},{"x":35500,"y":0.32},{"x":36000,"y":0.3},{"x":36500,"y":0.27},{"x":37000,"y":0.23},{"x":37500,"y":0.21},{"x":38000,"y":0.2},{"x":39000,"y":0.19},{"x":40000,"y":0.18},{"x":41000,"y":0.15},{"x":42000,"y":0.12},{"x":43000,"y":0.1},{"x":44000,"y":0.09},{"x":45000,"y":0.08},{"x":46000,"y":0.07},{"x":47000,"y":0.06},{"x":48000,"y":0.06},{"x":49000,"y":0.055},{"x":50000,"y":0.05}],
"f1":[{"x":0,"y":0},{"x":0.6,"y":0.05},{"x":1,"y":0.214},{"x":1.5,"y":0.214},{"x":2,"y":0.02},{"x":2.7,"y":0.15},{"x":3.3,"y":0.02},{"x":4,"y":0.01},{"x":5,"y":0.015},{"x":6,"y":0.012},{"x":7,"y":0.025},{"x":8,"y":0.01},{"x":9,"y":0.018},{"x":10,"y":0.012},{"x":12,"y":0.015},{"x":14,"y":0.01},{"x":16,"y":0.02},{"x":18,"y":0.012},{"x":20,"y":0.016},{"x":22,"y":0.012},{"x":24,"y":0.024},{"x":26,"y":0.012},{"x":28,"y":0.016},{"x":30,"y":0.01},{"x":32,"y":0.014},{"x":34,"y":0.01},{"x":36,"y":0.015},{"x":38,"y":0.009},{"x":40,"y":0.013},{"x":42,"y":0.009},{"x":44,"y":0.018},{"x":46,"y":0.01},{"x":48,"y":0.013},{"x":50,"y":0.008},{"x":52,"y":0.012},{"x":54,"y":0.009},{"x":56,"y":0.017},{"x":58,"y":0.009},{"x":60,"y":0.014},{"x":62,"y":0.008},{"x":64,"y":0.012},{"x":66,"y":0.008},{"x":68,"y":0.013},{"x":70,"y":0.008},{"x":71,"y":0.018},{"x":73,"y":0.009},{"x":75,"y":0.012},{"x":77,"y":0.016},{"x":79,"y":0.008},{"x":81,"y":0.012},{"x":83,"y":0.008},{"x":85,"y":0.011},{"x":87,"y":0.015},{"x":89,"y":0.008},{"x":91,"y":0.011},{"x":93,"y":0.007},{"x":95,"y":0.01},{"x":97,"y":0.007},{"x":99,"y":0.01},{"x":101,"y":0.007},{"x":103,"y":0.01},{"x":105,"y":0.007},{"x":107,"y":0.01},{"x":109,"y":0.014},{"x":111,"y":0.008},{"x":113,"y":0.009},{"x":115,"y":0.006},{"x":117,"y":0.008},{"x":119,"y":0.006},{"x":121,"y":0.008},{"x":123,"y":0.006},{"x":124,"y":0.01},{"x":126,"y":0.006},{"x":128,"y":0.008},{"x":130,"y":0.005},{"x":132,"y":0.008},{"x":134,"y":0.005},{"x":136,"y":0.007},{"x":138,"y":0.005},{"x":140,"y":0.008},{"x":142,"y":0.005},{"x":144,"y":0.007},{"x":146,"y":0.005},{"x":148,"y":0.007},{"x":150,"y":0.005},{"x":152,"y":0.007},{"x":154,"y":0.005},{"x":156,"y":0.007},{"x":158,"y":0.005},{"x":160,"y":0.007},{"x":162,"y":0.005},{"x":164,"y":0.006},{"x":166,"y":0.005},{"x":168,"y":0.007},{"x":170,"y":0.005},{"x":172,"y":0.006},{"x":174,"y":0.004},{"x":176,"y":0.006},{"x":178,"y":0.005},{"x":180,"y":0.007},{"x":182,"y":0.004},{"x":184,"y":0.006},{"x":186,"y":0.004},{"x":188,"y":0.007},{"x":190,"y":0.005},{"x":192,"y":0.006},{"x":194,"y":0.004},{"x":196,"y":0.006},{"x":198,"y":0.004},{"x":200,"y":0.005}],
"f2":[{"x":0,"y":0},{"x":1,"y":0.015},{"x":2,"y":0.02},{"x":3,"y":0.012},{"x":3.6,"y":0.02},{"x":4.1,"y":0.53},{"x":4.6,"y":0.02},{"x":5.5,"y":0.01},{"x":6.5,"y":0.015},{"x":7.5,"y":0.012},{"x":8.1,"y":0.104},{"x":8.7,"y":0.012},{"x":10,"y":0.008},{"x":12,"y":0.01},{"x":14,"y":0.007},{"x":16,"y":0.009},{"x":18,"y":0.006},{"x":20,"y":0.009},{"x":22,"y":0.006},{"x":24,"y":0.01},{"x":26,"y":0.006},{"x":28,"y":0.008},{"x":30,"y":0.005},{"x":32,"y":0.008},{"x":34,"y":0.005},{"x":36,"y":0.008},{"x":38,"y":0.005},{"x":40,"y":0.007},{"x":42,"y":0.005},{"x":44,"y":0.008},{"x":46,"y":0.005},{"x":48,"y":0.007},{"x":50,"y":0.004},{"x":52,"y":0.007},{"x":54,"y":0.005},{"x":56,"y":0.007},{"x":58,"y":0.004},{"x":60,"y":0.006},{"x":62,"y":0.004},{"x":64,"y":0.007},{"x":66,"y":0.004},{"x":68,"y":0.006},{"x":70,"y":0.004},{"x":72,"y":0.006},{"x":74,"y":0.004},{"x":76,"y":0.006},{"x":78,"y":0.004},{"x":80,"y":0.006},{"x":82,"y":0.004},{"x":84,"y":0.006},{"x":86,"y":0.004},{"x":88,"y":0.006},{"x":90,"y":0.005},{"x":91,"y":0.02},{"x":92,"y":0.005},{"x":94,"y":0.006},{"x":96,"y":0.004},{"x":98,"y":0.006},{"x":99,"y":0.005},{"x":99.7,"y":0.036},{"x":100.4,"y":0.005},{"x":102,"y":0.006},{"x":104,"y":0.004},{"x":106,"y":0.006},{"x":107.5,"y":0.004},{"x":108,"y":0.017},{"x":108.5,"y":0.004},{"x":110,"y":0.006},{"x":112,"y":0.004},{"x":114,"y":0.005},{"x":116,"y":0.004},{"x":118,"y":0.005},{"x":120,"y":0.003},{"x":124,"y":0.005},{"x":128,"y":0.003},{"x":132,"y":0.005},{"x":136,"y":0.003},{"x":140,"y":0.005},{"x":144,"y":0.003},{"x":148,"y":0.005},{"x":152,"y":0.003},{"x":156,"y":0.005},{"x":160,"y":0.003},{"x":164,"y":0.004},{"x":168,"y":0.003},{"x":172,"y":0.004},{"x":176,"y":0.003},{"x":180,"y":0.004},{"x":184,"y":0.003},{"x":188,"y":0.004},{"x":192,"y":0.003},{"x":196,"y":0.004},{"x":199,"y":0.003},{"x":200,"y":0.01}],
"fn":[{"t":"ff","x":6.2,"y":0.526,"lx":21.6,"ly":0.526},{"t":"0,27 x ff","x":3,"y":0.214,"lx":30.5,"ly":0.24},{"t":"2 x ff","x":9.2,"y":0.11,"lx":33,"ly":0.13},{"t":"24 x ff","x":100.7,"y":0.045,"lx":124.7,"ly":0.112}]
},
"resolve":{"scale":{"color":"independent","shape":"independent"},"legend":{"color":"independent"}},
"spacing":2,
"hconcat":[
{"vconcat":[
 {"width":1,"height":1,"view":{"stroke":null,"fill":"white"},"data":{"values":[]},"mark":"point","encoding":{}},
 {"width":442,"height":190,
  "encoding":{
   "x":{"field":"x","type":"quantitative","title":"Frequency (HZ)","scale":{"domain":[0,50000],"nice":false},"axis":{"values":[0,10000,20000,30000,40000,50000],"labelExpr":"replace(format(datum.value, ','), ',', '.')","labelPadding":5,"titlePadding":1}},
   "y":{"field":"y","type":"quantitative","title":"Acceleration RMS (m/s²)","scale":{"domain":[0,6],"nice":false},"axis":{"values":[0,1,2,3,4,5,6],"minExtent":22,"maxExtent":22,"labelPadding":6,"titlePadding":14}}
  },
  "layer":[
   {"data":{"name":"a1"},"mark":{"type":"line","strokeWidth":1.3},"encoding":{"color":{"datum":"20 MW","type":"nominal","scale":{"domain":["20 MW","40 MW","60 MW"],"range":["#000080","#ff00ff","#00ff00"]},"legend":{"title":null,"orient":"none","legendX":352,"legendY":6}}}},
   {"data":{"name":"a2"},"mark":{"type":"line","strokeWidth":1.3},"encoding":{"color":{"datum":"40 MW","type":"nominal"}}},
   {"data":{"name":"a3"},"mark":{"type":"line","strokeWidth":1.3},"encoding":{"color":{"datum":"60 MW","type":"nominal"}}},
   {"data":{"name":"t1"},"mark":{"type":"text","align":"left","baseline":"alphabetic","fontSize":13,"fontWeight":"bold","clip":false},"encoding":{"text":{"field":"t"}}},
   {"data":{"name":"u1"},"mark":{"type":"text","align":"left","baseline":"alphabetic","fontSize":12,"clip":false},"encoding":{"text":{"field":"t"}}}
  ]},
 {"width":443,"height":189,
  "encoding":{
   "x":{"field":"x","type":"quantitative","title":"Frequency (Hz)","scale":{"domain":[0,50000],"nice":false},"axis":{"values":[0,10000,20000,30000,40000,50000],"labelExpr":"replace(format(datum.value, ','), ',', '.')","labelPadding":4,"titlePadding":6}},
   "y":{"field":"y","type":"quantitative","title":"Acceleration RMS (m/s²)","scale":{"domain":[0,1.2],"nice":false},"axis":{"values":[0,0.2,0.4,0.6,0.8,1.0,1.2],"labelExpr":"replace(format(datum.value, '.1f'), '.', ',')","minExtent":30,"maxExtent":30,"labelPadding":4,"titlePadding":7}}
  },
  "layer":[
   {"data":{"name":"c1"},"mark":{"type":"line","strokeWidth":1.3},"encoding":{"color":{"datum":"30MW","type":"nominal","scale":{"domain":["30MW","60MW","65MW"],"range":["#000080","#ff00ff","#00ff00"]},"legend":{"title":null,"orient":"none","legendX":354,"legendY":4}}}},
   {"data":{"name":"c2"},"mark":{"type":"line","strokeWidth":1.3},"encoding":{"color":{"datum":"60MW","type":"nominal"}}},
   {"data":{"name":"c3"},"mark":{"type":"line","strokeWidth":1.3},"encoding":{"color":{"datum":"65MW","type":"nominal"}}},
   {"data":{"name":"t3"},"mark":{"type":"text","align":"left","baseline":"alphabetic","fontSize":13,"fontWeight":"bold","clip":false},"encoding":{"text":{"field":"t"}}},
   {"data":{"name":"u3"},"mark":{"type":"text","align":"left","baseline":"alphabetic","fontSize":12,"clip":false},"encoding":{"text":{"field":"t"}}}
  ]},
 {"width":444,"height":188,
  "encoding":{
   "x":{"field":"x","type":"quantitative","title":"Frequency (HZ)","scale":{"domain":[0,50000],"nice":false},"axis":{"values":[0,10000,20000,30000,40000,50000],"labelExpr":"replace(format(datum.value, ','), ',', '.')","labelPadding":6,"titlePadding":1}},
   "y":{"field":"y","type":"quantitative","title":"Acceleration RMS (m/s2)","scale":{"domain":[0,1.4],"nice":false},"axis":{"values":[0,0.2,0.4,0.6,0.8,1.0,1.2,1.4],"labelExpr":"replace(format(datum.value, '.1f'), '.', ',')","minExtent":30,"maxExtent":30,"labelPadding":2,"titlePadding":13}}
  },
  "layer":[
   {"data":{"name":"e1"},"mark":{"type":"line","strokeWidth":1.3},"encoding":{"color":{"datum":"25 MW","type":"nominal","scale":{"domain":["25 MW","65 MW"],"range":["#000080","#ff00ff"]},"legend":{"title":null,"orient":"none","legendX":351,"legendY":7}}}},
   {"data":{"name":"e2"},"mark":{"type":"line","strokeWidth":1.3},"encoding":{"color":{"datum":"65 MW","type":"nominal"}}},
   {"data":{"name":"t5"},"mark":{"type":"text","align":"left","baseline":"alphabetic","fontSize":13,"fontWeight":"bold","clip":false},"encoding":{"text":{"field":"t"}}},
   {"data":{"name":"u5"},"mark":{"type":"text","align":"left","baseline":"alphabetic","fontSize":12,"clip":false},"encoding":{"text":{"field":"t"}}}
  ]}
 ],"spacing":7,"resolve":{"scale":{"color":"independent","shape":"independent"},"legend":{"color":"independent"}}},
{"vconcat":[
 {"width":1,"height":1,"view":{"stroke":null,"fill":"white"},"data":{"values":[]},"mark":"point","encoding":{}},
 {"width":440,"height":177,
  "encoding":{
   "x":{"field":"x","type":"quantitative","title":"Frequency (HZ)","scale":{"domain":[0,200],"nice":false},"axis":{"values":[0,50,100,150,200],"labelPadding":3,"titlePadding":4}},
   "y":{"field":"y","type":"quantitative","title":"Acceleration (m²/s⁴)","scale":{"domain":[0,1.6],"nice":false},"axis":{"values":[0,0.4,0.8,1.2,1.6],"labelExpr":"datum.value == 0 ? '0' : replace(format(datum.value, '.1f'), '.', ',')","minExtent":40,"maxExtent":40,"labelPadding":10,"titlePadding":10}}
  },
  "layer":[
   {"data":{"name":"b1"},"mark":{"type":"line","strokeWidth":1.2},"encoding":{"color":{"datum":"20 MW","type":"nominal","scale":{"domain":["20 MW","40 MW","60 MW"],"range":["#000080","#ff00ff","#00ff00"]},"legend":{"title":null,"orient":"none","legendX":323,"legendY":8}}}},
   {"data":{"name":"b2"},"mark":{"type":"line","strokeWidth":1.2},"encoding":{"color":{"datum":"40 MW","type":"nominal"}}},
   {"data":{"name":"b3"},"mark":{"type":"line","strokeWidth":1.2},"encoding":{"color":{"datum":"60 MW","type":"nominal"}}},
   {"data":{"name":"bn"},"mark":{"type":"rule","color":"black","strokeWidth":1},"encoding":{"x":{"field":"lx","type":"quantitative"},"y":{"field":"ly","type":"quantitative"},"x2":{"field":"x"},"y2":{"field":"y"}}},
   {"data":{"name":"bn"},"mark":{"type":"point","filled":true,"color":"black","opacity":1,"size":30},"encoding":{"shape":{"condition":{"test":"datum.lx > datum.x","value":"triangle-left"},"value":"triangle-right"}}},
   {"data":{"name":"bn"},"mark":{"type":"point","filled":true,"fill":"white","stroke":"black","strokeWidth":1,"opacity":1,"size":4},"encoding":{"x":{"field":"lx","type":"quantitative"},"y":{"field":"ly","type":"quantitative"},"shape":{"field":"t","type":"nominal","legend":null,"scale":{"domain":["ff","2 x ff","15 x ff","23 x ff","24 x ff","2 x15 x ff","3 x15 x ff"],"range":["M-8.5,-7H8.5V7H-8.5Z","M-22,-7H22V7H-22Z","M-26.5,-7H26.5V7H-26.5Z","M-26.5,-7H26.5V7H-26.5Z","M-27,-7H27V7H-27Z","M-38.5,-7H38.5V7H-38.5Z","M-38,-7H38V7H-38Z"]}}}},
   {"data":{"name":"bn"},"mark":{"type":"text","fontSize":12},"encoding":{"x":{"field":"lx","type":"quantitative"},"y":{"field":"ly","type":"quantitative"},"text":{"field":"t"}}},
   {"data":{"name":"t2"},"mark":{"type":"text","align":"left","baseline":"alphabetic","fontSize":13,"fontWeight":"bold","clip":false},"encoding":{"text":{"field":"t"}}},
   {"data":{"name":"u2"},"mark":{"type":"text","align":"left","baseline":"alphabetic","fontSize":12,"clip":false},"encoding":{"text":{"field":"t"}}}
  ]},
 {"width":441,"height":174,
  "encoding":{
   "x":{"field":"x","type":"quantitative","title":"Frequency (HZ)","scale":{"domain":[0,200],"nice":false},"axis":{"values":[0,50,100,150,200],"labelPadding":7,"titlePadding":1}},
   "y":{"field":"y","type":"quantitative","title":"Acceleration (m²/s⁴)","scale":{"domain":[0,0.06],"nice":false},"axis":{"values":[0,0.02,0.04,0.06],"labelExpr":"replace(format(datum.value, '.2f'), '.', ',')","minExtent":45,"maxExtent":45,"labelPadding":10,"titlePadding":5}}
  },
  "layer":[
   {"data":{"name":"d1"},"mark":{"type":"line","strokeWidth":1.2},"encoding":{"color":{"datum":"30 MW","type":"nominal","scale":{"domain":["30 MW","60 MW","65 MW"],"range":["#000080","#ff00ff","#00ff00"]},"legend":{"title":null,"orient":"none","legendX":342,"legendY":10}}}},
   {"data":{"name":"d2"},"mark":{"type":"line","strokeWidth":1.2},"encoding":{"color":{"datum":"60 MW","type":"nominal"}}},
   {"data":{"name":"d3"},"mark":{"type":"line","strokeWidth":1.2},"encoding":{"color":{"datum":"65 MW","type":"nominal"}}},
   {"data":{"name":"dn"},"mark":{"type":"rule","color":"black","strokeWidth":1},"encoding":{"x":{"field":"lx","type":"quantitative"},"y":{"field":"ly","type":"quantitative"},"x2":{"field":"x"},"y2":{"field":"y"}}},
   {"data":{"name":"dn"},"mark":{"type":"point","filled":true,"color":"black","opacity":1,"size":30},"encoding":{"shape":{"condition":{"test":"datum.lx > datum.x","value":"triangle-left"},"value":"triangle-right"}}},
   {"data":{"name":"dn"},"mark":{"type":"point","filled":true,"fill":"white","stroke":"black","strokeWidth":1.8,"opacity":1,"size":4},"encoding":{"x":{"field":"lx","type":"quantitative"},"y":{"field":"ly","type":"quantitative"},"shape":{"field":"t","type":"nominal","legend":null,"scale":{"domain":["0,27 x ff","24 x ff"],"range":["M-34.5,-7.5H34.5V7.5H-34.5Z","M-27.5,-7.5H27.5V7.5H-27.5Z"]}}}},
   {"data":{"name":"dn"},"mark":{"type":"text","fontSize":12,"fontWeight":"bold"},"encoding":{"x":{"field":"lx","type":"quantitative"},"y":{"field":"ly","type":"quantitative"},"text":{"field":"t"}}},
   {"data":{"name":"t4"},"mark":{"type":"text","align":"left","baseline":"alphabetic","fontSize":13,"fontWeight":"bold","clip":false},"encoding":{"text":{"field":"t"}}},
   {"data":{"name":"u4"},"mark":{"type":"text","align":"left","baseline":"alphabetic","fontSize":12,"clip":false},"encoding":{"text":{"field":"t"}}}
  ]},
 {"width":441,"height":176,
  "encoding":{
   "x":{"field":"x","type":"quantitative","title":"Frequency (HZ)","scale":{"domain":[0,200],"nice":false},"axis":{"values":[0,50,100,150,200],"labelPadding":6,"titlePadding":1}},
   "y":{"field":"y","type":"quantitative","title":"Acceleration RMS (m²/s⁴)","scale":{"domain":[0,0.6],"nice":false},"axis":{"values":[0,0.1,0.2,0.3,0.4,0.5,0.6],"labelExpr":"datum.value == 0 ? '0' : replace(format(datum.value, '.1f'), '.', ',')","minExtent":37,"maxExtent":37,"labelPadding":10,"titlePadding":17}}
  },
  "layer":[
   {"data":{"name":"f1"},"mark":{"type":"line","strokeWidth":1.2},"encoding":{"color":{"datum":"25 MW","type":"nominal","scale":{"domain":["25 MW","65 MW"],"range":["#000080","#ff00ff"]},"legend":{"title":null,"orient":"none","legendX":349,"legendY":5}}}},
   {"data":{"name":"f2"},"mark":{"type":"line","strokeWidth":1.2},"encoding":{"color":{"datum":"65 MW","type":"nominal"}}},
   {"data":{"name":"fn"},"mark":{"type":"rule","color":"black","strokeWidth":1},"encoding":{"x":{"field":"lx","type":"quantitative"},"y":{"field":"ly","type":"quantitative"},"x2":{"field":"x"},"y2":{"field":"y"}}},
   {"data":{"name":"fn"},"mark":{"type":"point","filled":true,"color":"black","opacity":1,"size":30},"encoding":{"shape":{"condition":{"test":"datum.lx > datum.x","value":"triangle-left"},"value":"triangle-right"}}},
   {"data":{"name":"fn"},"mark":{"type":"point","filled":true,"fill":"white","stroke":"black","strokeWidth":1.8,"opacity":1,"size":4},"encoding":{"x":{"field":"lx","type":"quantitative"},"y":{"field":"ly","type":"quantitative"},"shape":{"field":"t","type":"nominal","legend":null,"scale":{"domain":["ff","0,27 x ff","2 x ff","24 x ff"],"range":["M-8,-7H8V7H-8Z","M-34.5,-7H34.5V7H-34.5Z","M-22,-7H22V7H-22Z","M-27.5,-7H27.5V7H-27.5Z"]}}}},
   {"data":{"name":"fn"},"mark":{"type":"text","fontSize":12,"fontWeight":"bold"},"encoding":{"x":{"field":"lx","type":"quantitative"},"y":{"field":"ly","type":"quantitative"},"text":{"field":"t"}}},
   {"data":{"name":"t6"},"mark":{"type":"text","align":"left","baseline":"alphabetic","fontSize":13,"fontWeight":"bold","clip":false},"encoding":{"text":{"field":"t"}}},
   {"data":{"name":"u6"},"mark":{"type":"text","align":"left","baseline":"alphabetic","fontSize":12,"clip":false},"encoding":{"text":{"field":"t"}}}
  ]}
 ],"spacing":9,"resolve":{"scale":{"color":"independent","shape":"independent"},"legend":{"color":"independent"}}}
]
}
